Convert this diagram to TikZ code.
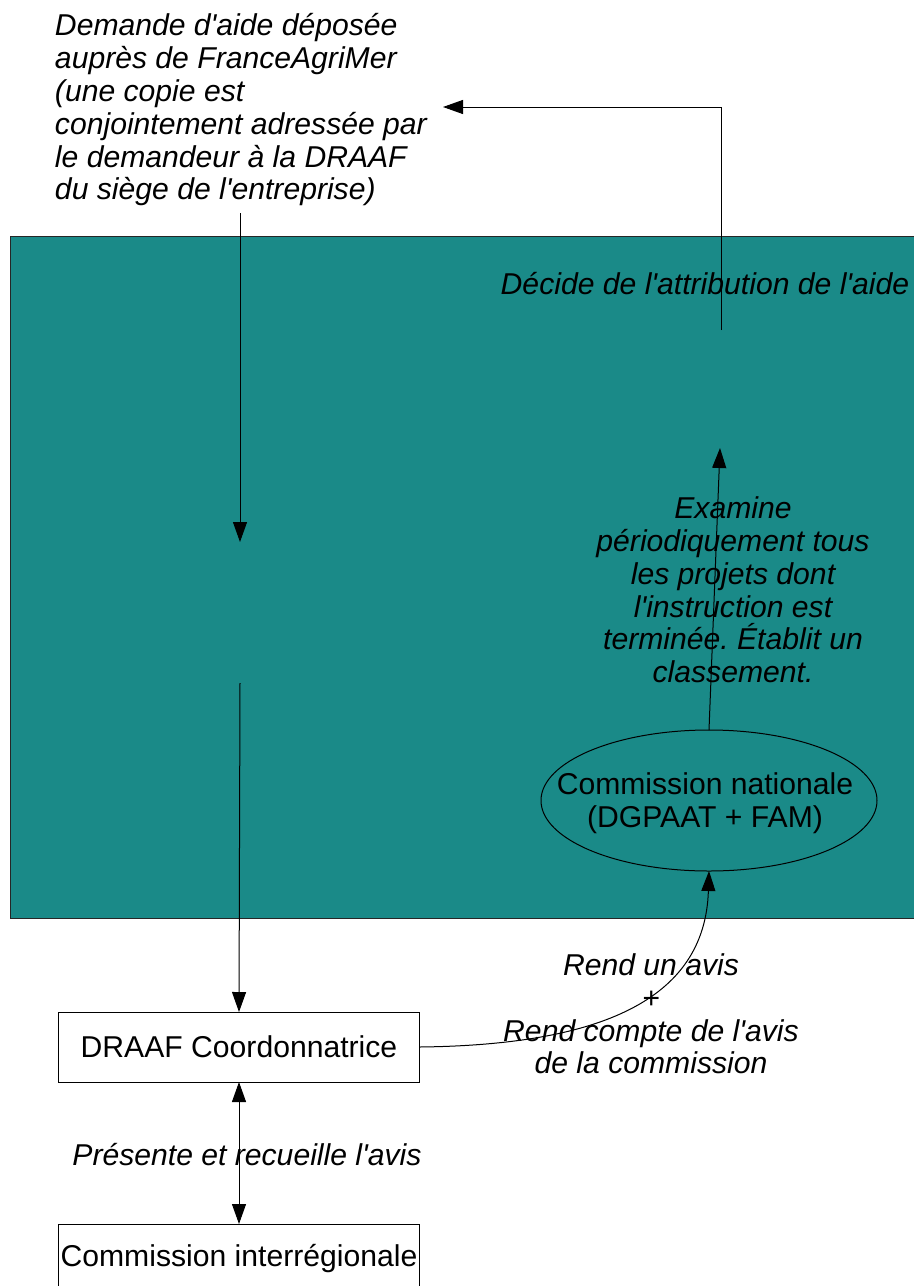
\documentclass[tikz,border=0pt]{standalone}
\usepackage{fontspec}
\setmainfont{Liberation Sans}[Ligatures=TeXOff]
\usetikzlibrary{shapes.geometric,arrows.meta}
\definecolor{teal1}{RGB}{26,138,136}
\frenchspacing
\begin{document}
\begin{tikzpicture}[x=0.75pt,y=-0.75pt,
  every node/.style={inner sep=0pt,outer sep=0pt},
  txt/.style={font=\fontsize{22.6}{24.6}\selectfont},
  itxt/.style={font=\fontsize{22.6}{24.6}\selectfont\itshape},
  box/.style={draw=black,line width=0.75pt,minimum width=270.75pt,minimum height=52.5pt,txt},
  conn/.style={line width=0.75pt,draw=black},
  tip/.style={-{Triangle[length=15pt,width=10.5pt]}}]
\useasboundingbox (0,0) rectangle (914,1286);
% background panel
\fill[teal1,draw=black!85,line width=0.75pt] (10,236) rectangle (930,918);
% nodes
\node[itxt,align=left,anchor=west] (demande) at (55,110) {Demande d'aide déposée\\auprès de FranceAgriMer\\(une copie est\\conjointement adressée par\\le demandeur à la DRAAF\\du siège de l'entreprise)};
\node[box] (draaf) at (239,1047) {DRAAF Coordonnatrice};
\node[box] (cominter) at (239,1259) {Commission interrégionale};
\node[ellipse,draw=black,line width=0.75pt,minimum width=252pt,minimum height=105.75pt] (comnat) at (709,800.5) {};
\node[txt,align=center] (comnattext) at (705,803) {Commission nationale\\(DGPAAT + FAM)};
\node[itxt] (decide) at (705,284) {Décide de l'attribution de l'aide};
\node[itxt,align=center] (examine) at (733,590) {Examine\\périodiquement tous\\les projets dont\\l'instruction est\\terminée. Établit un\\classement.};
\node[itxt] (presente) at (247,1155) {Présente et recueille l'avis};
\node[itxt,align=center] (rend) at (651,1014) {Rend un avis\\+\\Rend compte de l'avis\\de la commission};
% coordinates
\coordinate (d1) at (240,213);
\coordinate (d2) at (240,542);
\coordinate (d3) at (240,683);
\coordinate (e1) at (720,448);
\coordinate (f1) at (721,330);
\coordinate (f2) at (721,107);
\coordinate (f3) at (443,107);
% connectors
\draw[conn,tip] (d1) -- (d2);
\draw[conn,tip] (d3) -- (draaf.north);
\draw[conn,{Triangle[length=15pt,width=10.5pt]}-{Triangle[length=15pt,width=10.5pt]}] (draaf.south) -- (cominter.north);
\draw[conn,tip] (comnat.north) -- (e1);
\draw[conn,tip] (f1) -- (f2) -- (f3);
\draw[conn,tip] (draaf.east) .. controls (600,1045) and (705,1000) .. (comnat.south);
\end{tikzpicture}
\end{document}
